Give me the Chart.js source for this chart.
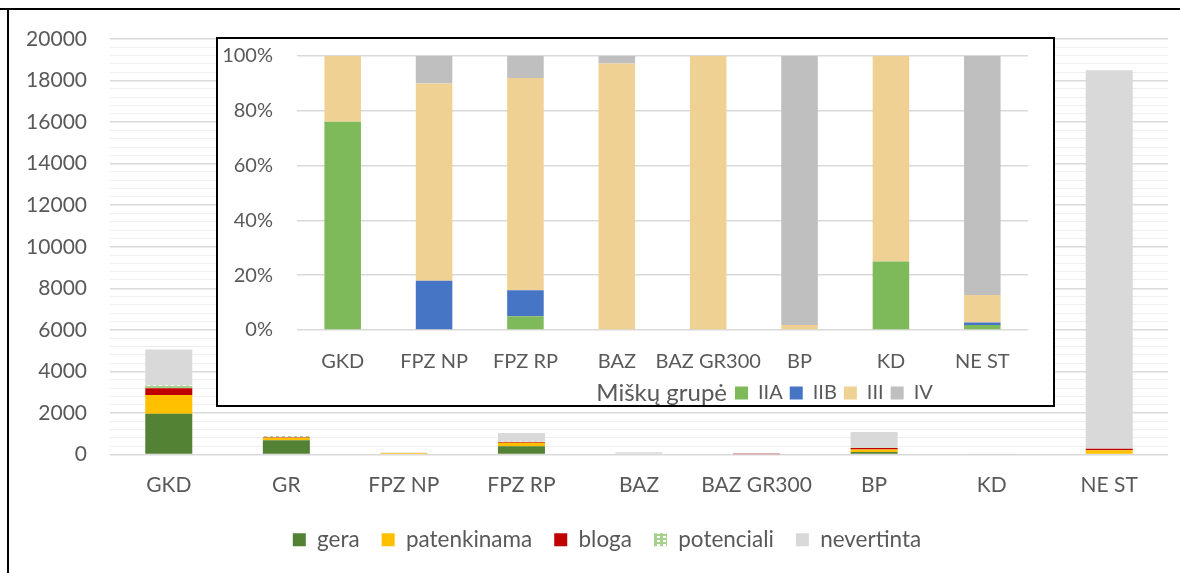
<!DOCTYPE html>
<html>
<head>
<meta charset="utf-8">
<script src="https://cdn.jsdelivr.net/npm/chart.js@4.4.1/dist/chart.umd.min.js"></script>
<style>
  html, body { margin: 0; padding: 0; background: #fff; }
  body { width: 1180px; height: 573px; position: relative; overflow: hidden; }
  #main { position: absolute; left: 0; top: 0; }
  .frame-top { position: absolute; left: 0; top: 8px; width: 1180px; height: 2px; background: #000; }
  .frame-left { position: absolute; left: 7px; top: 8px; width: 2px; height: 565px; background: #000; }
  #insetBox { position: absolute; left: 216px; top: 37px; width: 839px; height: 370px;
              box-sizing: border-box; border: 2px solid #000; background: #fff; }
  #inset { display: block; }
</style>
</head>
<body>
<canvas id="main" width="1180" height="573"></canvas>
<div class="frame-top"></div>
<div class="frame-left"></div>
<div id="insetBox"><canvas id="inset" width="835" height="366"></canvas></div>
<script>
// Outer chart - area by condition
const categories = ['GKD', 'GR', 'FPZ NP', 'FPZ RP', 'BAZ', 'BAZ GR300', 'BP', 'KD', 'NE ST'];
const gera        = [1960, 680,  0, 400,   0,  0, 120,  0,     0];
const patenkinama = [ 910, 130, 70, 160,   0,  0, 120,  0,   200];
const bloga       = [ 320,  15,  0,  40,   0, 10,  70,  0,    80];
const potenciali  = [ 130,  60,  0,  10,   0,  0,  10,  0,     0];
const nevertinta  = [1740,   0, 30, 430, 110, 40, 760, 10, 18220];

// Inset - share by forest group (%)
const insetCategories = ['GKD', 'FPZ NP', 'FPZ RP', 'BAZ', 'BAZ GR300', 'BP', 'KD', 'NE ST'];
const groupIIA = [76,  0,  5,    0,    0,   0,   25,  1.8];
const groupIIB = [ 0, 18,  9.5,  0,    0,   0,    0,  0.9];
const groupIII = [24, 72, 77.5, 97.3, 100,  1.8, 75, 10.1];
const groupIV  = [ 0, 10,  8,    2.7,  0,  98.2,  0, 87.2];
const insetLegendTitle = 'Miškų grupė';

const textColor = '#595959';
Chart.defaults.font.family = 'Lato, sans-serif';
Chart.defaults.color = textColor;

// dashed light green fill for "potenciali"
function dashPattern() {
    const c = document.createElement('canvas');
    c.width = 6; c.height = 4;
    const g = c.getContext('2d');
    g.fillStyle = '#a9d18e';
    g.fillRect(0, 0, 6, 4);
    g.fillStyle = '#ffffff';
    g.fillRect(3, 0, 3, 2);
    return g.createPattern(c, 'repeat');
}

// nudge a legend sideways after layout
function legendOffset(dx) {
    return {
        id: 'legendOffset',
        afterLayout(chart) { chart.legend.left += dx; }
    };
}

new Chart(document.getElementById('main'), {
    type: 'bar',
    data: {
        labels: categories,
        datasets: [
            { label: 'gera', data: gera, backgroundColor: '#548235' },
            { label: 'patenkinama', data: patenkinama, backgroundColor: '#ffc000' },
            { label: 'bloga', data: bloga, backgroundColor: '#c00000' },
            { label: 'potenciali', data: potenciali, backgroundColor: dashPattern() },
            { label: 'nevertinta', data: nevertinta, backgroundColor: '#d9d9d9' }
        ]
    },
    options: {
        responsive: false,
        animation: false,
        layout: { padding: { top: 39, right: 12, bottom: 12, left: 0 } },
        datasets: { bar: { barPercentage: 0.4, categoryPercentage: 1 } },
        plugins: {
            legend: {
                position: 'bottom',
                labels: { boxWidth: 13, boxHeight: 13, padding: 22, font: { size: 22.5 } }
            },
            tooltip: { enabled: false }
        },
        scales: {
            x: {
                stacked: true,
                grid: { display: false, drawTicks: false },
                border: { display: false },
                ticks: { padding: 18, font: { size: 21 }, maxRotation: 0, autoSkip: false },
                afterFit: s => { s.height = 52; }
            },
            y: {
                stacked: true,
                min: 0,
                max: 20000,
                border: { display: false },
                grid: {
                    drawTicks: false,
                    color: c => c.tick.value % 2000 === 0 ? '#d9d9d9' : '#efefef',
                    lineWidth: c => c.tick.value % 2000 === 0 ? 1.5 : 1
                },
                ticks: {
                    stepSize: 400,
                    autoSkip: false,
                    padding: 23,
                    font: { size: 21 },
                    callback: v => v % 2000 === 0 ? String(v) : ''
                },
                afterFit: s => { s.width = 110; }
            }
        }
    },
    plugins: [legendOffset(46)]
});

// inset legend title drawn to the left of the items
const insetLegendTitlePlugin = {
    id: 'insetLegendTitle',
    afterDraw(chart) {
        const box = chart.legend.legendHitBoxes[0];
        const ctx = chart.ctx;
        ctx.save();
        ctx.font = '24px Lato, sans-serif';
        ctx.fillStyle = textColor;
        ctx.textAlign = 'right';
        ctx.textBaseline = 'middle';
        ctx.fillText(insetLegendTitle, box.left - 8, box.top + box.height / 2);
        ctx.restore();
    }
};

new Chart(document.getElementById('inset'), {
    type: 'bar',
    data: {
        labels: insetCategories,
        datasets: [
            { label: 'IIA', data: groupIIA, backgroundColor: '#7fba5a' },
            { label: 'IIB', data: groupIIB, backgroundColor: '#4675c6' },
            { label: 'III', data: groupIII, backgroundColor: '#f0d194' },
            { label: 'IV', data: groupIV, backgroundColor: '#bfbfbf' }
        ]
    },
    options: {
        responsive: false,
        animation: false,
        layout: { padding: { top: 17, right: 25, bottom: 0, left: 0 } },
        datasets: { bar: { barPercentage: 0.4, categoryPercentage: 1 } },
        plugins: {
            legend: {
                position: 'bottom',
                align: 'start',
                maxHeight: 29,
                labels: { boxWidth: 13, boxHeight: 13, padding: 7, font: { size: 20 } }
            },
            tooltip: { enabled: false }
        },
        scales: {
            x: {
                stacked: true,
                grid: { display: false, drawTicks: false },
                border: { display: false },
                ticks: { padding: 20, font: { size: 20 }, maxRotation: 0, minRotation: 0, autoSkip: false },
                afterFit: s => { s.height = 46; }
            },
            y: {
                stacked: true,
                min: 0,
                max: 100,
                border: { display: false },
                grid: { drawTicks: false, color: '#d9d9d9', lineWidth: 1.5 },
                ticks: { stepSize: 20, padding: 24, font: { size: 20 }, callback: v => v + '%' },
                afterFit: s => { s.width = 79; s.paddingTop = 0; s.paddingBottom = 0; }
            }
        }
    },
    plugins: [legendOffset(510), insetLegendTitlePlugin]
});
</script>
</body>
</html>
